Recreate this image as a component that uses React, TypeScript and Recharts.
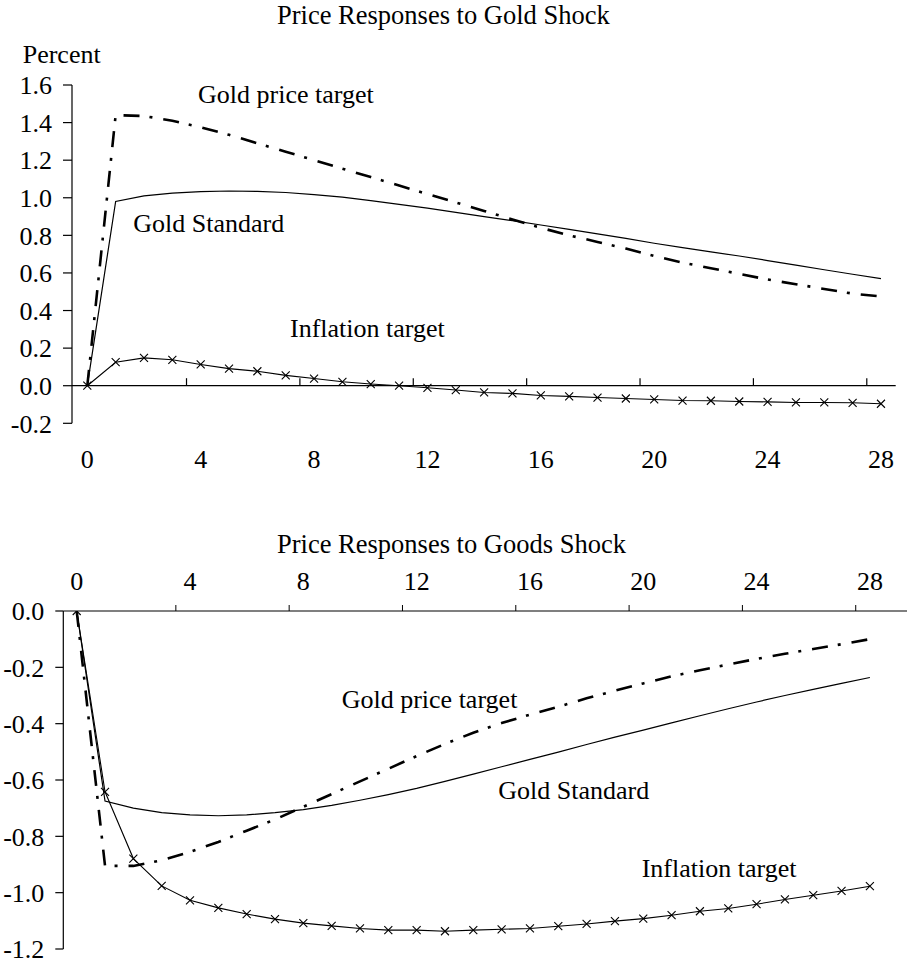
import React from 'react';
import { LineChart, Line, XAxis, YAxis, ReferenceLine } from 'recharts';

// ---- data ----
const periods = [0, 1, 2, 3, 4, 5, 6, 7, 8, 9, 10, 11, 12, 13, 14, 15, 16, 17, 18, 19, 20, 21, 22, 23, 24, 25, 26, 27, 28];
const xTickLabels = [0, 4, 8, 12, 16, 20, 24, 28];
const xTickMarks = [3.5, 7.5, 11.5, 15.5, 19.5, 23.5, 27.5];

const goldShockYTicks = [-0.2, 0, 0.2, 0.4, 0.6, 0.8, 1.0, 1.2, 1.4, 1.6];
const goodsShockYTicks = [-1.2, -1.0, -0.8, -0.6, -0.4, -0.2, 0];

const goldShockPriceTarget = [0, 1.44, 1.435, 1.41, 1.375, 1.335, 1.29, 1.245, 1.2, 1.155, 1.11, 1.065, 1.02, 0.975, 0.93, 0.885, 0.84, 0.8, 0.765, 0.73, 0.69, 0.655, 0.625, 0.595, 0.565, 0.54, 0.515, 0.49, 0.475];
const goldShockStandard = [0, 0.98, 1.01, 1.025, 1.033, 1.036, 1.034, 1.028, 1.017, 1.003, 0.985, 0.965, 0.945, 0.922, 0.9, 0.878, 0.855, 0.832, 0.808, 0.784, 0.758, 0.735, 0.712, 0.69, 0.666, 0.642, 0.617, 0.593, 0.57];
const goldShockInflation = [0, 0.125, 0.148, 0.138, 0.113, 0.091, 0.077, 0.055, 0.038, 0.021, 0.009, 0.0, -0.011, -0.023, -0.036, -0.041, -0.052, -0.057, -0.063, -0.068, -0.073, -0.079, -0.08, -0.084, -0.086, -0.089, -0.089, -0.091, -0.096];

const goodsShockPriceTarget = [0, -0.905, -0.905, -0.885, -0.855, -0.82, -0.78, -0.74, -0.695, -0.65, -0.605, -0.56, -0.515, -0.472, -0.432, -0.398, -0.368, -0.34, -0.31, -0.283, -0.257, -0.232, -0.21, -0.19, -0.17, -0.152, -0.135, -0.118, -0.1];
const goodsShockStandard = [0, -0.675, -0.7, -0.716, -0.724, -0.727, -0.724, -0.716, -0.705, -0.69, -0.672, -0.652, -0.63, -0.605, -0.579, -0.553, -0.527, -0.501, -0.474, -0.448, -0.423, -0.397, -0.372, -0.347, -0.323, -0.3, -0.278, -0.257, -0.236];
const goodsShockInflation = [0, -0.642, -0.879, -0.976, -1.027, -1.054, -1.076, -1.094, -1.108, -1.118, -1.127, -1.133, -1.133, -1.137, -1.133, -1.13, -1.127, -1.119, -1.111, -1.101, -1.092, -1.08, -1.066, -1.056, -1.041, -1.024, -1.009, -0.994, -0.977];

const titleGold = 'Price Responses to Gold Shock';
const titleGoods = 'Price Responses to Goods Shock';
const yUnit = 'Percent';
const seriesNames = ['Gold price target', 'Gold Standard', 'Inflation target'];

// ---- tables ----
const goldData = periods.map((t, i) => ({
  t,
  priceTarget: goldShockPriceTarget[i],
  standard: goldShockStandard[i],
  inflation: goldShockInflation[i],
}));
const goodsData = periods.map((t, i) => ({
  t,
  priceTarget: goodsShockPriceTarget[i],
  standard: goodsShockStandard[i],
  inflation: goodsShockInflation[i],
}));
const bottomTicks = [...xTickLabels, ...xTickMarks].sort((a, b) => a - b);

// ---- styles ----
const FONT = "'Liberation Serif', 'DejaVu Serif', 'Times New Roman', Times, serif";
const TICK_FS = 26;
const TEXT_FS = 26;
const DASHDOT = '16 10 3 11';
const tickStyle = { fill: '#000', fontSize: TICK_FS, fontFamily: FONT };

const Cross = (props: any) => {
  const { cx, cy, index } = props;
  if (cx == null || cy == null) return <g key={`n${index}`} />;
  const s = 4;
  return (
    <path
      key={`c${index}`}
      d={`M${cx - s},${cy - s}L${cx + s},${cy + s}M${cx - s},${cy + s}L${cx + s},${cy - s}`}
      stroke="#000"
      strokeWidth={1.1}
      fill="none"
    />
  );
};

const BOTTOM_TICK_SIZE = 6;
const BOTTOM_TICK_MARGIN = 15;
const TopAxisTick = (props: any) => {
  const { x, y, payload } = props;
  const v = payload.value;
  if (xTickMarks.includes(v)) {
    return (
      <line
        x1={x}
        x2={x}
        y1={y + BOTTOM_TICK_MARGIN}
        y2={y + BOTTOM_TICK_MARGIN + BOTTOM_TICK_SIZE}
        stroke="#000"
        strokeWidth={1}
      />
    );
  }
  return (
    <text x={x} y={y} textAnchor="middle" fill="#000" style={{ fontSize: TICK_FS, fontFamily: FONT }}>
      {String(v)}
    </text>
  );
};

const fmt = (v: number) => v.toFixed(1);

export default function App() {
  return (
    <div style={{ position: 'absolute', left: 0, top: 0, width: 907, height: 962, background: '#fff', overflow: 'hidden', fontFamily: FONT }}>
      {/* Top chart */}
      <div style={{ position: 'absolute', left: 0, top: 0 }}>
        <LineChart width={907} height={480} data={goldData} margin={{ top: 85, right: 11.3, bottom: 26.7, left: 0 }} style={{ fontFamily: FONT }}>
          <XAxis
            xAxisId="x"
            dataKey="t"
            type="number"
            domain={[-0.54, 28.52]}
            allowDataOverflow
            ticks={xTickLabels}
            interval={0}
            axisLine={false}
            tickLine={false}
            tickSize={0}
            tickMargin={26}
            height={30}
            tick={tickStyle}
          />
          <YAxis
            yAxisId="y"
            type="number"
            domain={[-0.2, 1.6]}
            allowDataOverflow
            ticks={goldShockYTicks}
            interval={0}
            width={72}
            tickSize={9}
            tickMargin={11}
            tickFormatter={fmt}
            axisLine={{ stroke: '#000', strokeWidth: 1.2 }}
            tickLine={{ stroke: '#000', strokeWidth: 1.2 }}
            tick={tickStyle}
          />
          <ReferenceLine xAxisId="x" yAxisId="y" y={0} stroke="#000" strokeWidth={1.2} />
          {xTickMarks.map((m) => (
            <ReferenceLine
              key={`tm${m}`}
              xAxisId="x"
              yAxisId="y"
              segment={[{ x: m, y: 0 }, { x: m, y: 0.04 }]}
              stroke="#000"
              strokeWidth={1.2}
            />
          ))}
          <Line xAxisId="x" yAxisId="y" dataKey="priceTarget" name={seriesNames[0]} stroke="#000" strokeWidth={2.6} strokeDasharray={DASHDOT} dot={false} isAnimationActive={false} type="linear" />
          <Line xAxisId="x" yAxisId="y" dataKey="standard" name={seriesNames[1]} stroke="#000" strokeWidth={1.2} dot={false} isAnimationActive={false} type="linear" />
          <Line xAxisId="x" yAxisId="y" dataKey="inflation" name={seriesNames[2]} stroke="#000" strokeWidth={1.1} dot={Cross} isAnimationActive={false} type="linear" />
        </LineChart>
      </div>

      {/* Bottom chart */}
      <div style={{ position: 'absolute', left: 0, top: 480 }}>
        <LineChart width={907} height={482} data={goodsData} margin={{ top: 101, right: 0, bottom: 13, left: 0 }} style={{ fontFamily: FONT }}>
          <XAxis
            xAxisId="x"
            orientation="top"
            dataKey="t"
            type="number"
            domain={[-0.473, 29.31]}
            allowDataOverflow
            ticks={bottomTicks}
            interval={0}
            axisLine={{ stroke: '#000', strokeWidth: 1.2 }}
            tickLine={false}
            tickSize={BOTTOM_TICK_SIZE}
            tickMargin={BOTTOM_TICK_MARGIN}
            height={30}
            tick={<TopAxisTick />}
          />
          <YAxis
            yAxisId="y"
            type="number"
            domain={[-1.2, 0]}
            allowDataOverflow
            ticks={goodsShockYTicks}
            interval={0}
            width={63.3}
            tickSize={8}
            tickMargin={11}
            tickFormatter={fmt}
            axisLine={{ stroke: '#000', strokeWidth: 1.2 }}
            tickLine={{ stroke: '#000', strokeWidth: 1.2 }}
            tick={tickStyle}
          />
          <Line xAxisId="x" yAxisId="y" dataKey="priceTarget" name={seriesNames[0]} stroke="#000" strokeWidth={2.6} strokeDasharray={DASHDOT} dot={false} isAnimationActive={false} type="linear" />
          <Line xAxisId="x" yAxisId="y" dataKey="standard" name={seriesNames[1]} stroke="#000" strokeWidth={1.2} dot={false} isAnimationActive={false} type="linear" />
          <Line xAxisId="x" yAxisId="y" dataKey="inflation" name={seriesNames[2]} stroke="#000" strokeWidth={1.1} dot={Cross} isAnimationActive={false} type="linear" />
        </LineChart>
      </div>

      {/* Text overlay */}
      <svg width={907} height={962} style={{ position: 'absolute', left: 0, top: 0, pointerEvents: 'none', fontFamily: FONT }}>
        <g fill="#000">
          <text x={277} y={24} style={{ fontSize: 26.5, fontFamily: FONT }}>{titleGold}</text>
          <text x={22.7} y={63.3} style={{ fontSize: TEXT_FS, fontFamily: FONT }}>{yUnit}</text>
          <text x={198} y={103} style={{ fontSize: TEXT_FS, fontFamily: FONT }}>{seriesNames[0]}</text>
          <text x={133.3} y={231.7} style={{ fontSize: TEXT_FS, fontFamily: FONT }}>{seriesNames[1]}</text>
          <text x={290} y={337.3} style={{ fontSize: TEXT_FS, fontFamily: FONT }}>{seriesNames[2]}</text>

          <text x={277} y={553} style={{ fontSize: 26.5, fontFamily: FONT }}>{titleGoods}</text>
          <text x={341.7} y={708.3} style={{ fontSize: TEXT_FS, fontFamily: FONT }}>{seriesNames[0]}</text>
          <text x={498.3} y={799.3} style={{ fontSize: TEXT_FS, fontFamily: FONT }}>{seriesNames[1]}</text>
          <text x={641.7} y={876.7} style={{ fontSize: TEXT_FS, fontFamily: FONT }}>{seriesNames[2]}</text>
        </g>
      </svg>
    </div>
  );
}
